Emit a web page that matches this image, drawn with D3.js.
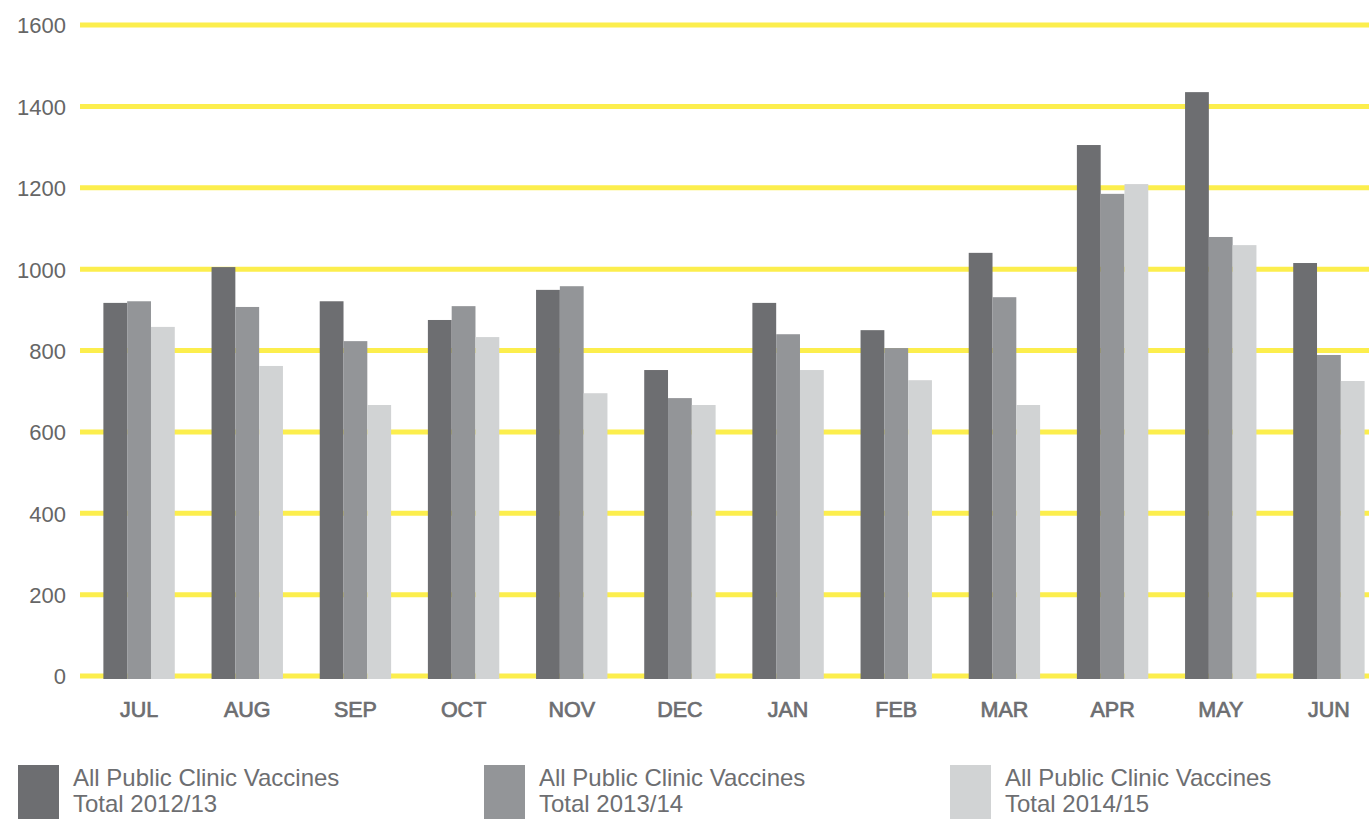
<!DOCTYPE html>
<html>
<head>
<meta charset="utf-8">
<script src="https://cdn.jsdelivr.net/npm/d3@7/dist/d3.min.js"></script>
<style>
  html, body { margin: 0; padding: 0; background: #fff; }
  svg { display: block; font-family: "Liberation Sans", Arial, Helvetica, sans-serif; }
</style>
</head>
<body>
<svg id="chart" width="1369" height="819"></svg>
<script>
// Monthly totals of vaccines given at public clinics, three financial years
const months = ["JUL", "AUG", "SEP", "OCT", "NOV", "DEC", "JAN", "FEB", "MAR", "APR", "MAY", "JUN"];
const total2012_13 = [917, 1005, 921, 875, 949, 752, 917, 850, 1040, 1305, 1435, 1015];
const total2013_14 = [921, 907, 823, 909, 958, 683, 840, 806, 931, 1185, 1079, 789];
const total2014_15 = [858, 762, 666, 833, 695, 666, 752, 727, 666, 1209, 1059, 725];
const seriesNames = ["All Public Clinic Vaccines|Total 2012/13", "All Public Clinic Vaccines|Total 2013/14", "All Public Clinic Vaccines|Total 2014/15"];
const yTicks = [0, 200, 400, 600, 800, 1000, 1200, 1400, 1600];

const seriesValues = [total2012_13, total2013_14, total2014_15];
const colors = ["#6d6e71", "#939598", "#d1d3d4"];

const svg = d3.select("#chart");

const y = d3.scaleLinear().domain([0, 1600]).range([676, 25]);
const x = d3.scaleBand().domain(months).range([85, 1383]).paddingInner(0.34).paddingOuter(0.17);
const xs = d3.scaleBand().domain(d3.range(seriesValues.length)).range([0, x.bandwidth()]);

// yellow gridlines
svg.append("g").selectAll("line").data(yTicks).join("line")
  .attr("x1", 80).attr("x2", 1369)
  .attr("y1", d => y(d)).attr("y2", d => y(d))
  .attr("stroke", "#fcee4d").attr("stroke-width", 5);

// y-axis labels
const yAxis = svg.append("g").attr("transform", "translate(66,0)")
  .call(d3.axisLeft(y).tickValues(yTicks).tickSize(0).tickPadding(0).tickFormat(d3.format("d")));
yAxis.select(".domain").remove();
yAxis.selectAll("text").attr("font-size", 22).attr("fill", "#666").attr("dy", "0.36em")
  .attr("font-family", "Liberation Sans, Arial, sans-serif");

// bars
const groups = svg.append("g").selectAll("g").data(months).join("g")
  .attr("transform", d => `translate(${x(d)},0)`);
groups.selectAll("rect")
  .data((m, i) => seriesValues.map((s, k) => ({ k, v: s[i] })))
  .join("rect")
  .attr("x", d => xs(d.k))
  .attr("width", xs.bandwidth())
  .attr("y", d => y(d.v))
  .attr("height", d => y(0) + 3 - y(d.v))
  .attr("fill", d => colors[d.k]);

// month labels
const xAxis = svg.append("g").attr("transform", "translate(0,717)")
  .call(d3.axisBottom(x).tickSize(0).tickPadding(0));
xAxis.select(".domain").remove();
xAxis.selectAll("text").attr("font-size", 21.5).attr("fill", "#6d6e71")
  .attr("stroke", "#6d6e71").attr("stroke-width", 0.7)
  .attr("font-family", "Liberation Sans, Arial, sans-serif").attr("dy", 0);

// legend
const legend = svg.append("g").selectAll("g").data(seriesNames).join("g")
  .attr("transform", (d, i) => `translate(${18 + i * 466},765)`);
legend.append("rect").attr("width", 41).attr("height", 56).attr("fill", (d, i) => colors[i]);
legend.append("text").attr("x", 55).attr("y", 21)
  .attr("font-size", 24).attr("fill", "#6d6e71")
  .selectAll("tspan").data(d => d.split("|")).join("tspan")
  .attr("x", 55).attr("dy", (d, i) => i ? 26 : 0).text(d => d);
</script>
</body>
</html>
